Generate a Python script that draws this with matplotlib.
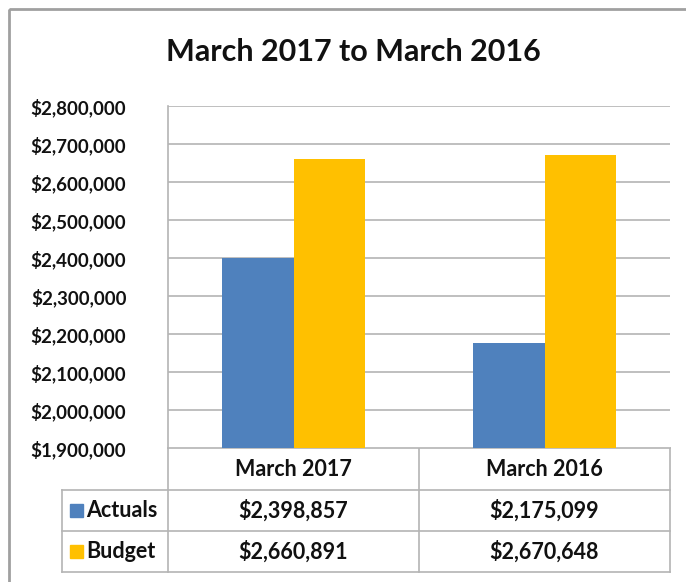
#!/usr/bin/env python3
"""Excel-style column chart with data table: actuals vs budget, March 2017 / March 2016."""
import matplotlib
matplotlib.use("Agg")
import matplotlib.pyplot as plt
from matplotlib.patches import Rectangle
from matplotlib.ticker import FuncFormatter

categories = ["March 2017", "March 2016"]
series = ["Actuals", "Budget"]
actuals = [2398857, 2175099]
budget = [2660891, 2670648]
y_ticks = [1900000, 2000000, 2100000, 2200000, 2300000, 2400000, 2500000, 2600000, 2700000, 2800000]

BLUE, GOLD, GRID, INK = "#4f81bd", "#ffc000", "#b4b4b4", "#111111"
plt.rcParams.update({"font.family": ["Lato", "DejaVu Sans"], "font.weight": "bold"})

W, H = 686, 582
fig = plt.figure(figsize=(W / 100, H / 100), dpi=100)
fig.patch.set_facecolor("white")

# outer chart frame (runs off the right/bottom edge like the screenshot)
frame = fig.add_axes([0, 0, 1, 1])
frame.set_xlim(0, W); frame.set_ylim(H, 0); frame.axis("off")
frame.add_patch(Rectangle((9, 9), 700, 600, fill=False, edgecolor="#a0a0a0", linewidth=2))

L, R, T, B = 168, 670, 106, 448
ax = fig.add_axes([L / W, (H - B) / H, (R - L) / W, (B - T) / H])
x = list(range(len(categories)))
bw = 0.285
ax.bar([i - bw / 2 for i in x], actuals, width=bw, color=BLUE, zorder=3)
ax.bar([i + bw / 2 for i in x], budget, width=bw, color=GOLD, zorder=3)
ax.set_xlim(-0.5, len(categories) - 0.5)
ax.set_ylim(y_ticks[0], y_ticks[-1])
ax.set_yticks(y_ticks)
ax.yaxis.set_major_formatter(FuncFormatter(lambda v, p: f"${v:,.0f}"))
ax.set_xticks([])
ax.tick_params(axis="y", length=0, pad=30, labelsize=13.5, labelcolor=INK)
ax.yaxis.grid(True, color=GRID, linewidth=1.2, zorder=0)
for s in ["top", "right", "bottom"]:
    ax.spines[s].set_visible(False)
ax.spines["left"].set_color(GRID); ax.spines["left"].set_linewidth(1.2)
for lbl in ax.get_yticklabels():
    lbl.set_fontweight("bold")

fig.text(0.515, 1 - 52 / H, "March 2017 to March 2016", ha="center", va="center",
         fontsize=22, fontweight="bold", color=INK)

# data table below the plot area
cols = [L, 419, R]
rows = [B, 490, 531, 572]
lk = dict(color=GRID, linewidth=1.2)
frame.plot([L, R], [B, B], **lk)
for yy in rows[1:]:
    frame.plot([62, R], [yy, yy], **lk)
for xx in cols:
    frame.plot([xx, xx], [B, rows[-1]], **lk)
frame.plot([62, 62], [rows[1], rows[-1]], **lk)

fs = 15.5
for i, cat in enumerate(categories):
    cx = (cols[i] + cols[i + 1]) / 2
    frame.text(cx, (rows[0] + rows[1]) / 2, cat, ha="center", va="center", fontsize=fs, color=INK)
    frame.text(cx, (rows[1] + rows[2]) / 2, f"${actuals[i]:,}", ha="center", va="center", fontsize=fs, color=INK)
    frame.text(cx, (rows[2] + rows[3]) / 2, f"${budget[i]:,}", ha="center", va="center", fontsize=fs, color=INK)
for j, (name, col) in enumerate(zip(series, [BLUE, GOLD])):
    cy = (rows[j + 1] + rows[j + 2]) / 2
    frame.add_patch(Rectangle((70, cy - 7), 13, 13, color=col))
    frame.text(86, cy, name, ha="left", va="center", fontsize=fs, color=INK)

fig.savefig("out.png", dpi=100)
